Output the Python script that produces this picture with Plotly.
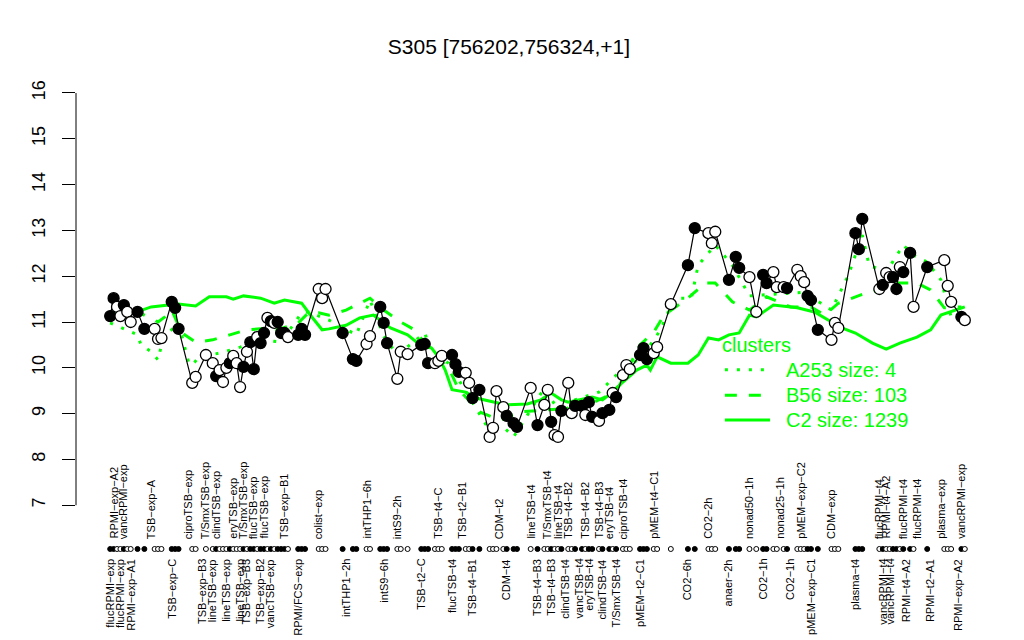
import plotly.graph_objects as go

# ---------------- data ----------------
sample_idx = [0, 1, 2, 3, 4, 5, 6, 8, 10, 13,
              14, 15, 18, 19, 20, 24, 25, 28, 30, 31,
              32, 33, 34, 35, 36, 37, 38, 39, 40, 41,
              42, 43, 44, 45, 46, 47, 48, 49, 50, 51,
              52, 55, 56, 57, 61, 62, 63, 68, 71, 72,
              75, 76, 79, 80, 81, 84, 85, 87, 91, 92,
              93, 95, 96, 97, 100, 101, 102, 104, 105, 106,
              108, 111, 112, 113, 115, 116, 118, 119, 123, 125,
              127, 128, 129, 130, 131, 132, 134, 135, 136, 138,
              139, 140, 141, 143, 144, 146, 147, 148, 150, 151,
              152, 155, 156, 157, 159, 160, 164, 169, 171, 175,
              176, 177, 181, 183, 184, 187, 189, 191, 192, 194,
              195, 197, 198, 201, 202, 203, 204, 205, 207, 211,
              212, 213, 218, 219, 220, 225, 226, 227, 228, 229,
              230, 231, 232, 234, 235, 239, 244, 245, 246, 249, 250]

expression = [11.13, 11.52, 11.33, 11.13, 11.37, 11.22, 11.00, 11.22, 10.85, 10.85,
              10.63, 10.65, 11.44, 11.31, 10.85, 9.67, 9.80, 10.28, 10.10, 9.82,
              9.95, 9.69, 10.00, 10.10, 10.26, 10.10, 9.58, 10.02, 10.35, 10.56,
              9.97, 10.67, 10.54, 10.76, 11.09, 11.02, 10.98, 11.00, 10.76, 10.76,
              10.67, 10.72, 10.85, 10.72, 11.72, 11.52, 11.72, 10.76, 10.19, 10.15,
              10.52, 10.69, 11.33, 10.98, 10.54, 9.76, 10.35, 10.30, 10.50, 10.52,
              10.10, 10.10, 10.15, 10.26, 10.28, 10.08, 9.91, 9.89, 9.67, 9.34,
              9.52, 8.49, 8.69, 9.49, 9.14, 8.95, 8.79, 8.71, 9.56, 8.75,
              9.19, 9.52, 8.82, 8.53, 8.49, 9.06, 9.67, 9.01, 9.17, 9.17,
              8.97, 9.25, 8.93, 8.84, 9.01, 9.08, 9.45, 9.36, 9.84, 10.06,
              9.97, 10.28, 10.43, 10.19, 10.32, 10.45, 11.39, 12.24, 13.05, 12.94,
              12.72, 12.97, 11.92, 12.42, 12.18, 11.98, 11.22, 12.03, 11.85, 12.09,
              11.76, 11.76, 11.74, 12.14, 12.00, 11.87, 11.57, 11.48, 10.83, 10.61,
              10.98, 10.87, 12.94, 12.59, 13.25, 11.72, 11.81, 12.07, 11.98, 11.98,
              11.72, 12.20, 12.09, 12.51, 11.33, 12.20, 12.35, 11.79, 11.44, 11.11, 11.04]

in_cluster = [1, 1, 0, 0, 1, 0, 0, 1, 1, 0,
              0, 0, 1, 1, 1, 0, 0, 0, 0, 1,
              0, 0, 0, 1, 0, 0, 0, 1, 0, 1,
              1, 0, 1, 1, 0, 1, 0, 1, 1, 1,
              0, 1, 1, 1, 0, 0, 0, 1, 1, 1,
              0, 0, 1, 1, 1, 0, 0, 0, 1, 1,
              1, 0, 0, 0, 1, 1, 1, 0, 0, 1,
              1, 0, 0, 0, 0, 1, 1, 1, 0, 1,
              0, 0, 1, 0, 0, 1, 0, 0, 1, 1,
              0, 1, 1, 0, 1, 1, 0, 1, 0, 0,
              0, 1, 1, 1, 0, 0, 0, 1, 1, 0,
              0, 0, 1, 1, 1, 0, 0, 1, 1, 0,
              0, 0, 1, 0, 0, 0, 1, 1, 1, 0,
              0, 0, 1, 1, 1, 0, 1, 0, 0, 1,
              1, 0, 1, 1, 0, 1, 0, 0, 0, 1, 0]

c2_idx = [0, 7, 12, 17, 18, 23, 25, 29, 34, 36, 39, 44, 48, 51, 56, 59, 62, 64,
          69, 73, 77, 82, 87, 90, 94, 96, 98, 100, 104, 107, 112, 116, 122, 126,
          129, 132, 134, 137, 141, 144, 147, 150, 154, 157, 158, 160, 164, 169,
          172, 175, 178, 181, 184, 187, 189, 194, 198, 201, 206, 210, 214, 218,
          223, 227, 231, 236, 240, 243, 247, 250]
c2_val = [11.15, 11.20, 11.33, 11.37, 11.41, 11.37, 11.35, 11.55, 11.55, 11.50,
          11.57, 11.52, 11.41, 11.48, 11.41, 11.11, 10.83, 10.85,
          10.93, 11.09, 11.15, 10.87, 10.72, 10.54, 10.43, 10.24, 9.95, 9.52,
          9.47, 9.34, 9.25, 9.19, 9.21, 9.30, 9.45, 9.30, 9.25, 9.30, 9.36,
          9.30, 9.47, 9.69, 9.95, 10.06, 9.95, 10.24, 10.10, 10.10, 10.28,
          10.65, 10.61, 10.72, 10.76, 11.15, 11.11, 11.37, 11.33, 11.31, 11.22,
          11.04, 10.87, 10.76, 10.54, 10.41, 10.54, 10.67, 10.83, 11.15, 11.26, 11.33]

b56_idx = [0, 7, 14, 16, 18, 21, 25, 30, 35, 40, 44, 49, 55, 58, 61, 64, 69, 76,
           80, 85, 89, 94, 99, 102, 108, 114, 120, 127, 135, 140, 146, 149, 155,
           159, 162, 169, 174, 177, 182, 187, 192, 199, 205, 209, 213, 221, 225,
           230, 236, 240, 244, 249]
b56_val = [11.20, 11.26, 11.00, 11.11, 11.26, 10.76, 10.56, 10.61, 10.72, 10.83,
           10.85, 10.83, 10.98, 11.20, 11.20, 11.15, 11.26, 11.52, 11.26, 11.00,
           10.83, 10.35, 10.00, 9.52, 9.04, 8.86, 9.04, 9.08, 9.12, 9.19, 9.41,
           9.62, 10.50, 10.78, 11.15, 11.52, 11.85, 11.85, 11.44, 11.26, 11.55,
           11.33, 11.33, 11.15, 11.41, 11.63, 11.70, 11.85, 11.85, 11.70, 11.31, 11.33]

a253_idx = [0, 8, 9, 12, 14, 15, 17, 20, 23, 24, 26, 32, 38, 44, 50, 54, 56, 58,
            64, 72, 76, 80, 84, 92, 94, 99, 107, 110, 115, 118, 123, 127, 132,
            136, 143, 149, 153, 156, 161, 165, 170, 172, 177, 182, 187, 192, 203,
            211, 216, 220, 222, 227, 232, 235, 239, 243, 246, 250]
a253_val = [10.98, 10.72, 10.50, 10.35, 10.17, 10.50, 10.76, 10.98, 10.10, 10.06,
            10.24, 10.32, 10.45, 10.61, 10.56, 10.98, 11.20, 11.22, 11.04, 10.72,
            11.48, 10.69, 10.28, 10.76, 10.35, 10.10, 9.14, 8.75, 8.71, 8.49, 9.08,
            9.56, 8.97, 9.30, 9.47, 9.91, 10.10, 10.28, 10.83, 11.52, 11.52, 12.24,
            12.68, 12.24, 11.57, 11.59, 11.65, 11.26, 12.03, 12.90, 12.24, 12.09,
            12.68, 12.46, 12.31, 11.92, 11.11, 11.00]

top_label_idx = [1, 4, 12, 23, 28, 31, 36, 39, 42, 45, 51, 61, 75, 84, 96, 103,
                 114, 123, 128, 131, 134, 139, 143, 146, 150, 159, 175, 187, 196,
                 202, 211, 225, 227, 232, 236, 243, 249]
top_labels = ["RPMI\u2212exp\u2212A2", "vancRPMI\u2212exp", "TSB\u2212exp\u2212A",
              "ciproTSB\u2212exp", "T/SmxTSB\u2212exp", "clindTSB\u2212exp",
              "eryTSB\u2212exp", "T/SmxTSB\u2212exp", "flucTSB\u2212exp",
              "flucTSB\u2212exp", "TSB\u2212exp\u2212B1", "colist\u2212exp",
              "intTHP1\u22126h", "intS9\u22122h", "TSB\u2212t4\u2212C",
              "TSB\u2212t2\u2212B1", "CDM\u2212t2", "lineTSB\u2212t4",
              "T/SmxTSB\u2212t4", "lineTSB\u2212t4", "TSB\u2212t4\u2212B2",
              "TSB\u2212t4\u2212B2", "TSB\u2212t4\u2212B3", "eryTSB\u2212t4",
              "ciproTSB\u2212t4", "pMEM\u2212t4\u2212C1", "CO2\u22122h",
              "nonad50\u22121h", "nonad25\u22121h", "pMEM\u2212exp\u2212C2",
              "CDM\u2212exp", "flucRPMI\u2212t4", "RPMI\u2212t4\u2212A2",
              "flucRPMI\u2212t4", "flucRPMI\u2212t4", "plasma\u2212exp",
              "vancRPMI\u2212exp"]

bottom_label_idx = [0, 3, 6, 18, 27, 30, 34, 38, 40, 44, 47, 55, 69, 80, 91, 100,
                    106, 116, 125, 129, 133, 137, 140, 144, 148, 155, 169, 181,
                    191, 199, 205, 218, 226, 228, 233, 240, 248]
bottom_labels = ["flucRPMI\u2212exp", "flucRPMI\u2212exp", "RPMI\u2212exp\u2212A1",
                 "TSB\u2212exp\u2212C", "TSB\u2212exp\u2212B3", "lineTSB\u2212exp",
                 "lineTSB\u2212exp", "lineTSB\u2212exp", "TSB\u2212exp\u2212B3",
                 "TSB\u2212exp\u2212B2", "vancTSB\u2212exp", "RPMI/FCS\u2212exp",
                 "intTHP1\u22122h", "intS9\u22126h", "TSB\u2212t2\u2212C",
                 "flucTSB\u2212t4", "TSB\u2212t4\u2212B1", "CDM\u2212t4",
                 "TSB\u2212t4\u2212B3", "TSB\u2212t4\u2212B3", "clindTSB\u2212t4",
                 "vancTSB\u2212t4", "eryTSB\u2212t4", "clindTSB\u2212t4",
                 "T/SmxTSB\u2212t4", "pMEM\u2212t2\u2212C1", "CO2\u22126h",
                 "anaer\u22122h", "CO2\u22121h", "CO2\u22121h", "pMEM\u2212exp\u2212C1",
                 "plasma\u2212t4", "vancRPMI\u2212t4", "vancRPMI\u2212t4",
                 "RPMI\u2212t4\u2212A2", "RPMI\u2212t2\u2212A1", "RPMI\u2212exp\u2212A2"]

cluster_names = ["A253 size: 4", "B56 size: 103", "C2 size: 1239"]
y_ticks = [7, 8, 9, 10, 11, 12, 13, 14, 15, 16]
title_text = "S305 [756202,756324,+1]"

# ---------------- styling ----------------
GREEN = "#00FF00"
FONT = "Liberation Sans, Arial, Helvetica, sans-serif"
STRIP_Y = 6.044
TOP_LAB_Y = 6.22
BOT_LAB_Y = 5.87
LAB_SIZE = 11

fig = go.Figure()

# cluster profiles
fig.add_trace(go.Scatter(x=c2_idx, y=c2_val, mode="lines",
                         line=dict(color=GREEN, width=3), hoverinfo="skip"))
fig.add_trace(go.Scatter(x=b56_idx, y=b56_val, mode="lines",
                         line=dict(color=GREEN, width=3, dash="12px,12px"), hoverinfo="skip"))
fig.add_trace(go.Scatter(x=a253_idx, y=a253_val, mode="lines",
                         line=dict(color=GREEN, width=3, dash="3px,9px"), hoverinfo="skip"))

fills = ["black" if f else "white" for f in in_cluster]

# probe profile
fig.add_trace(go.Scatter(x=sample_idx, y=expression, mode="lines+markers",
                         line=dict(color="black", width=1.2),
                         marker=dict(size=11, color=fills, line=dict(color="black", width=1.3)),
                         cliponaxis=False))

# indicator strip
fig.add_trace(go.Scatter(x=sample_idx, y=[STRIP_Y] * len(sample_idx), mode="markers",
                         marker=dict(size=5, color=fills, line=dict(color="black", width=1)),
                         cliponaxis=False))

annotations = []
for i, t in zip(top_label_idx, top_labels):
    annotations.append(dict(x=i, y=TOP_LAB_Y, xref="x", yref="y", text=t, showarrow=False,
                            textangle=-90, xanchor="center", yanchor="bottom",
                            font=dict(size=LAB_SIZE, color="black", family=FONT)))
for i, t in zip(bottom_label_idx, bottom_labels):
    annotations.append(dict(x=i, y=BOT_LAB_Y, xref="x", yref="y", text=t, showarrow=False,
                            textangle=-90, xanchor="center", yanchor="top",
                            font=dict(size=LAB_SIZE, color="black", family=FONT)))

# legend (cluster key)
annotations.append(dict(x=0.698, y=0.523, xref="paper", yref="paper", text="clusters",
                        showarrow=False, xanchor="left", yanchor="middle",
                        font=dict(size=20, color=GREEN, family=FONT)))
leg_y = [0.479, 0.434, 0.390]
leg_dash = ["3px,9px", "12px,12px", "solid"]
shapes = []
for ly, name, d in zip(leg_y, cluster_names, leg_dash):
    annotations.append(dict(x=0.767, y=ly, xref="paper", yref="paper", text=name,
                            showarrow=False, xanchor="left", yanchor="middle",
                            font=dict(size=20, color=GREEN, family=FONT)))
    shapes.append(dict(type="line", xref="paper", yref="paper", x0=0.703, x1=0.752,
                       y0=ly, y1=ly, line=dict(color=GREEN, width=3, dash=d)))

# y axis line from 7 to 16
shapes.append(dict(type="line", xref="paper", yref="y", x0=0, x1=0,
                   y0=y_ticks[0], y1=y_ticks[-1], line=dict(color="black", width=1)))

fig.update_layout(
    width=1024, height=640,
    margin=dict(l=76, r=25, t=76, b=0, autoexpand=False),
    paper_bgcolor="white", plot_bgcolor="white",
    showlegend=False,
    font=dict(family=FONT, color="black"),
    title=dict(text=title_text, x=0.497, xref="container", xanchor="center",
               y=1 - 47 / 640, yanchor="middle", font=dict(size=21, family=FONT)),
    xaxis=dict(range=[-10, 260], visible=False, showgrid=False, zeroline=False),
    yaxis=dict(range=[4.057, 16.371], tickvals=y_ticks, ticks="outside", ticklen=13,
               tickwidth=1, tickcolor="black", showgrid=False, zeroline=False,
               showline=False, tickangle=-90, ticklabelstandoff=10, automargin=False,
               tickfont=dict(size=18, family=FONT, color="black")),
    annotations=annotations,
    shapes=shapes,
)

fig.write_html("out.html", config={"displayModeBar": False},
               post_script="document.body.style.margin='0px';document.body.style.overflow='hidden';")
